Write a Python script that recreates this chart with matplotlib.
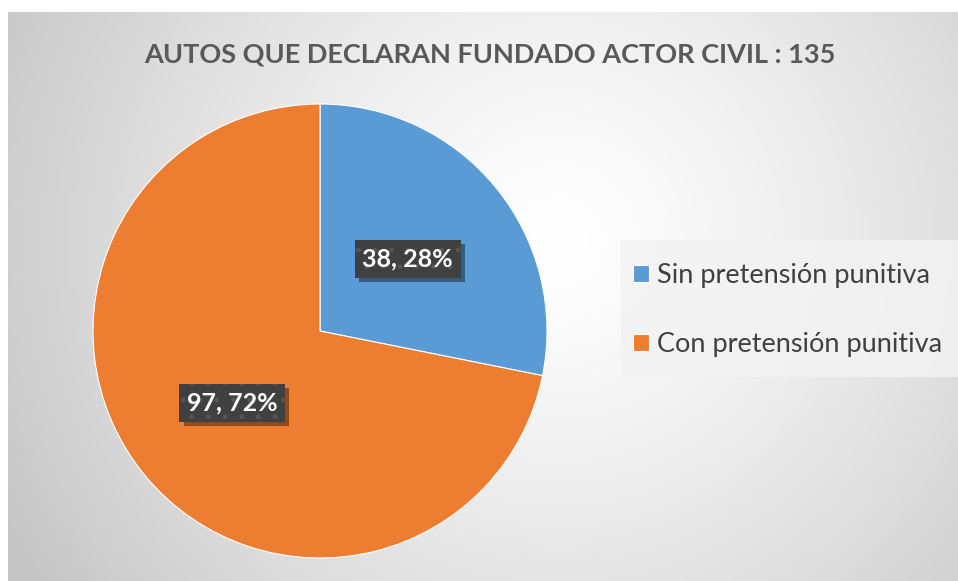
import numpy as np
import matplotlib
matplotlib.use("Agg")
import matplotlib.pyplot as plt
from matplotlib import patheffects as pe
from matplotlib.patches import Rectangle

categories = ["Sin pretensión punitiva", "Con pretensión punitiva"]
values = [38, 97]
colors = ["#5B9BD5", "#ED7D31"]
title = "AUTOS QUE DECLARAN FUNDADO ACTOR CIVIL : 135"

matplotlib.rcParams["hatch.color"] = "#555555"
matplotlib.rcParams["hatch.linewidth"] = 1.0

W, H = 958, 581
fig = plt.figure(figsize=(W / 100, H / 100), dpi=100)
fig.patch.set_facecolor("white")

# background radial gradient panel
bx0, by0, bx1, by1 = 8, 12, 958, 581  # pixel coords from top-left
bg = fig.add_axes([bx0 / W, 1 - by1 / H, (bx1 - bx0) / W, (by1 - by0) / H])
bg.set_axis_off()
nx, ny = 200, 120
xs = np.linspace(bx0, bx1, nx)
ys = np.linspace(by0, by1, ny)
X, Y = np.meshgrid(xs, ys)
cx, cy = 560, 240
d = np.sqrt((X - cx) ** 2 + (Y - cy) ** 2) / 620.0
d = np.clip(d, 0, 1)
val = 1.0 - (1.0 - 0.78) * d ** 1.3
img = np.dstack([val, val, val])
bg.imshow(img, extent=[0, 1, 0, 1], aspect="auto", origin="upper", interpolation="bilinear")
bg.set_xlim(0, 1)
bg.set_ylim(0, 1)

# title
fig.text(490 / W, 1 - 55 / H, title, ha="center", va="center",
         fontsize=19.5, fontweight="bold", color="#595959", family=["Lato", "DejaVu Sans"])

# pie
pcx, pcy, r = 320, 331, 227
ax = fig.add_axes([(pcx - r) / W, 1 - (pcy + r) / H, 2 * r / W, 2 * r / H])
ax.set_axis_off()
total = sum(values)

def fmt(p):
    n = int(round(p * total / 100.0))
    return f"{n}, {p:.0f}%"

wedges, texts = ax.pie(values, colors=colors, startangle=90, counterclock=False,
                       radius=1.0, wedgeprops=dict(edgecolor="white", linewidth=0.8))[:2]
ax.set_xlim(-1, 1)
ax.set_ylim(-1, 1)
ax.set_aspect("equal")

# data labels
angle = 90.0
for v in values:
    span = v / total * 360.0
    mid = np.deg2rad(angle - span / 2)
    angle -= span
    p = v / total * 100
    t = ax.text(0.5 * np.cos(mid), 0.5 * np.sin(mid), fmt(p), ha="center", va="center",
                fontsize=18, fontweight="bold", color="white", family=["Lato", "DejaVu Sans"],
                bbox=dict(boxstyle="square,pad=0.3", facecolor="#404040", edgecolor="#555555",
                          hatch=".", linewidth=0))
    t.get_bbox_patch().set_path_effects([
        pe.SimplePatchShadow(offset=(3, -3), shadow_rgbFace="black", alpha=0.4),
        pe.Normal()])

# legend panel
lx0, ly0, lx1, ly1 = 621, 240, 958, 377
fig.patches.append(Rectangle((lx0 / W, 1 - ly1 / H), (lx1 - lx0) / W, (ly1 - ly0) / H,
                             transform=fig.transFigure, facecolor="#f3f3f3", alpha=0.85,
                             edgecolor="none", zorder=1))

leg = fig.legend(wedges, categories, loc="center left",
                 bbox_to_anchor=(633 / W, 1 - 310 / H),
                 prop=dict(family=["Lato", "DejaVu Sans"], size=19.5),
                 frameon=False, handlelength=0.6, handleheight=0.6,
                 handletextpad=0.3, labelspacing=1.6, borderpad=0, borderaxespad=0)
leg.set_zorder(2)
for txt in leg.get_texts():
    txt.set_color("#404040")

fig.savefig("out.png", dpi=100)
